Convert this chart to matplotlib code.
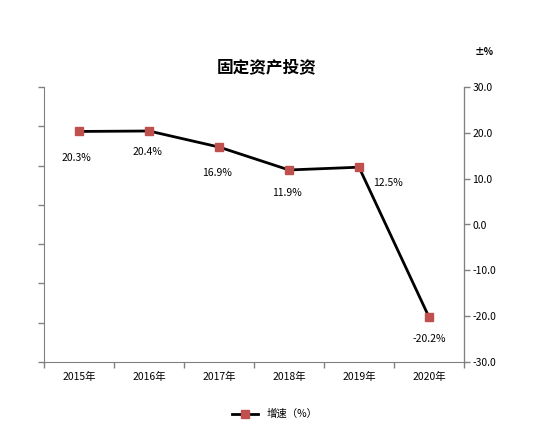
import matplotlib
matplotlib.use("Agg")
import matplotlib.pyplot as plt
from matplotlib.lines import Line2D

plt.rcParams['font.family'] = ['Noto Sans CJK SC', 'DejaVu Sans']

categories = ["2015年", "2016年", "2017年", "2018年", "2019年", "2020年"]
growth = [20.3, 20.4, 16.9, 11.9, 12.5, -20.2]
labels = ["20.3%", "20.4%", "16.9%", "11.9%", "12.5%", "-20.2%"]
right_ticks = [30, 20, 10, 0, -10, -20, -30]

fig = plt.figure(figsize=(5.56, 4.48), dpi=100)
ax = fig.add_axes([44/556, 1-362/448, (464-44)/556, (362-87)/448])
ax2 = ax.twinx()

gray = "#808080"
x = list(range(len(categories)))

# left axis (unlabeled)
ax.set_xlim(-0.5, len(categories)-0.5)
ax.set_ylim(0, 7)
ax.set_yticks(range(8))
ax.set_yticklabels([])
ax.set_xticks([i-0.5 for i in range(len(categories)+1)])
ax.set_xticklabels([])
ax.set_xticks(x, minor=True)
ax.set_xticklabels(categories, minor=True, fontsize=7.5)
ax.tick_params(axis='x', which='minor', length=0, pad=7)
ax.tick_params(axis='x', which='major', length=4, color=gray, width=1)
ax.tick_params(axis='y', length=4, color=gray, width=1)
for s in ['top']:
    ax.spines[s].set_visible(False)
    ax2.spines[s].set_visible(False)
for s in ['left', 'bottom']:
    ax.spines[s].set_color(gray)
ax2.spines['right'].set_color(gray)
ax2.spines['left'].set_visible(False)
ax2.spines['bottom'].set_visible(False)

ax2.set_ylim(-30, 30)
ax2.set_yticks(right_ticks)
ax2.set_yticklabels([f"{v:.1f}" for v in right_ticks], fontsize=7.5)
ax2.tick_params(axis='y', length=4, color=gray, width=1, pad=2)

ax2.plot(x, growth, color='black', linewidth=2, marker='s', markersize=6,
         markerfacecolor='#C0504D', markeredgecolor='#C0504D', zorder=3)

offsets = [(-3, -27), (-2, -21), (-2, -26), (-2, -23), (29, -16), (0, -22)]
for xi, yi, lab, (dx, dy) in zip(x, growth, labels, offsets):
    ax2.annotate(lab, (xi, yi), xytext=(dx, dy), textcoords='offset pixels',
                 ha='center', va='center', fontsize=7.5)

fig.text(267/556, 1-67/448, "固定资产投资", ha='center', va='center',
         fontsize=12, fontweight='bold')
fig.text(484/556, 1-52/448, "±%", ha='center', va='center',
         fontsize=7, fontweight='bold')

handle = Line2D([], [], color='black', linewidth=2, marker='s', markersize=6,
                markerfacecolor='#C0504D', markeredgecolor='#C0504D')
fig.legend([handle], ["增速（%）"], loc='center', bbox_to_anchor=(275/556, 1-414/448),
           frameon=False, fontsize=7.5, handlelength=2.5)

fig.savefig("out.png", dpi=100, facecolor='white')
